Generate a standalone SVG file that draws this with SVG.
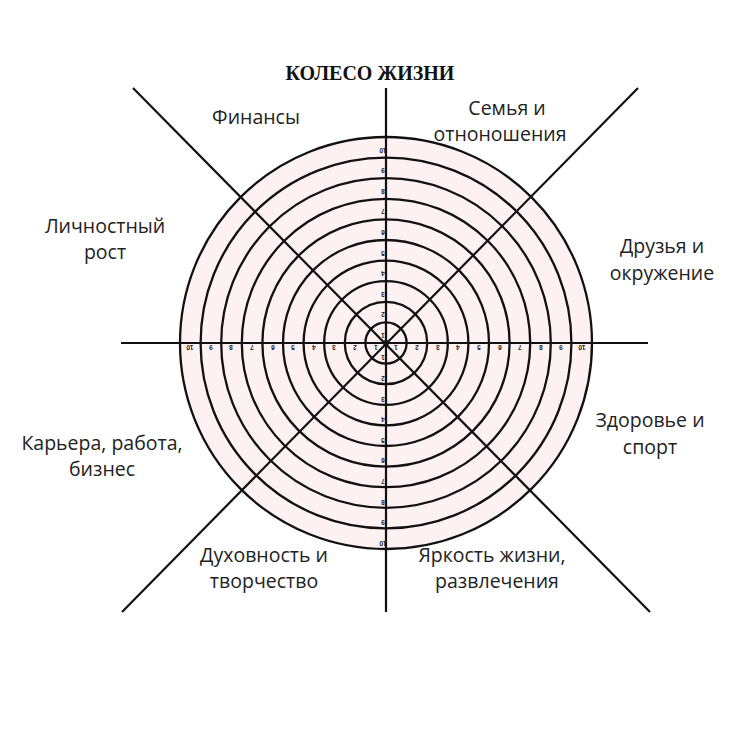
<svg xmlns="http://www.w3.org/2000/svg" width="748" height="748" viewBox="0 0 748 748">
<style>
.ring{fill:none;stroke:#111;stroke-width:2.3}
.axis{stroke:#111;stroke-width:2.2;fill:none}
.lbl{font-family:"Open Sans","Noto Sans",sans-serif;font-size:19.5px;fill:#222;text-anchor:middle}
.num{font-family:"Liberation Sans",sans-serif;font-size:6.5px;font-weight:bold;fill:#222;text-anchor:middle}
.title{font-family:"Liberation Serif",serif;font-size:20px;font-weight:bold;fill:#111;text-anchor:middle}
</style>
<rect width="748" height="748" fill="#fff"/>
<text class="title" x="370" y="80">КОЛЕСО ЖИЗНИ</text>
<g id="wheel">
<circle cx="386" cy="343" r="206" fill="#fdf1f1" stroke="none"/>
<circle class="ring" cx="386" cy="343" r="206"/>
<circle class="ring" cx="386" cy="343" r="185.4"/>
<circle class="ring" cx="386" cy="343" r="164.8"/>
<circle class="ring" cx="386" cy="343" r="144.2"/>
<circle class="ring" cx="386" cy="343" r="123.6"/>
<circle class="ring" cx="386" cy="343" r="103"/>
<circle class="ring" cx="386" cy="343" r="82.4"/>
<circle class="ring" cx="386" cy="343" r="61.8"/>
<circle class="ring" cx="386" cy="343" r="41.2"/>
<circle class="ring" cx="386" cy="343" r="20.6"/>
</g>
<g id="connectors">
<line class="axis" x1="386" y1="88" x2="386" y2="612"/>
<line class="axis" x1="121" y1="343" x2="648" y2="343"/>
<line class="axis" x1="133" y1="88" x2="650" y2="612"/>
<line class="axis" x1="638" y1="88" x2="122" y2="612"/>
<circle cx="386" cy="343" r="3" fill="#111"/>
</g>
<g id="scale">
<text class="num" transform="translate(383,333) rotate(180)">1</text>
<text class="num" transform="translate(383,312) rotate(180)">2</text>
<text class="num" transform="translate(383,292) rotate(180)">3</text>
<text class="num" transform="translate(383,271) rotate(180)">4</text>
<text class="num" transform="translate(383,251) rotate(180)">5</text>
<text class="num" transform="translate(383,230) rotate(180)">6</text>
<text class="num" transform="translate(383,209) rotate(180)">7</text>
<text class="num" transform="translate(383,189) rotate(180)">8</text>
<text class="num" transform="translate(383,168) rotate(180)">9</text>
<text class="num" transform="translate(383,148) rotate(180)">10</text>
<text class="num" transform="translate(383,355) rotate(180)">1</text>
<text class="num" transform="translate(383,376) rotate(180)">2</text>
<text class="num" transform="translate(383,397) rotate(180)">3</text>
<text class="num" transform="translate(383,417) rotate(180)">4</text>
<text class="num" transform="translate(383,438) rotate(180)">5</text>
<text class="num" transform="translate(383,458) rotate(180)">6</text>
<text class="num" transform="translate(383,479) rotate(180)">7</text>
<text class="num" transform="translate(383,500) rotate(180)">8</text>
<text class="num" transform="translate(383,520) rotate(180)">9</text>
<text class="num" transform="translate(383,541) rotate(180)">10</text>
<text class="num" transform="translate(376,345) rotate(180)">1</text>
<text class="num" transform="translate(355,345) rotate(180)">2</text>
<text class="num" transform="translate(334,345) rotate(180)">3</text>
<text class="num" transform="translate(314,345) rotate(180)">4</text>
<text class="num" transform="translate(293,345) rotate(180)">5</text>
<text class="num" transform="translate(273,345) rotate(180)">6</text>
<text class="num" transform="translate(252,345) rotate(180)">7</text>
<text class="num" transform="translate(231,345) rotate(180)">8</text>
<text class="num" transform="translate(211,345) rotate(180)">9</text>
<text class="num" transform="translate(190,345) rotate(180)">10</text>
<text class="num" transform="translate(396,345) rotate(180)">1</text>
<text class="num" transform="translate(417,345) rotate(180)">2</text>
<text class="num" transform="translate(438,345) rotate(180)">3</text>
<text class="num" transform="translate(458,345) rotate(180)">4</text>
<text class="num" transform="translate(479,345) rotate(180)">5</text>
<text class="num" transform="translate(500,345) rotate(180)">6</text>
<text class="num" transform="translate(520,345) rotate(180)">7</text>
<text class="num" transform="translate(541,345) rotate(180)">8</text>
<text class="num" transform="translate(561,345) rotate(180)">9</text>
<text class="num" transform="translate(582,345) rotate(180)">10</text>
</g>
<g id="finance"><text class="lbl" x="256" y="124">Финансы</text></g>
<g id="family"><text class="lbl" x="507" y="115">Семья и</text><text class="lbl" x="500" y="141">отноношения</text></g>
<g id="growth"><text class="lbl" x="105" y="233">Личностный</text><text class="lbl" x="105" y="259">рост</text></g>
<g id="friends"><text class="lbl" x="662" y="253">Друзья и</text><text class="lbl" x="662" y="280">окружение</text></g>
<g id="health"><text class="lbl" x="650" y="427">Здоровье и</text><text class="lbl" x="650" y="454">спорт</text></g>
<g id="career"><text class="lbl" x="102" y="450">Карьера, работа,</text><text class="lbl" x="102" y="476">бизнес</text></g>
<g id="spirit"><text class="lbl" x="264" y="562">Духовность и</text><text class="lbl" x="264" y="588">творчество</text></g>
<g id="fun"><text class="lbl" x="492" y="562">Яркость жизни,</text><text class="lbl" x="497" y="588">развлечения</text></g>
</svg>
